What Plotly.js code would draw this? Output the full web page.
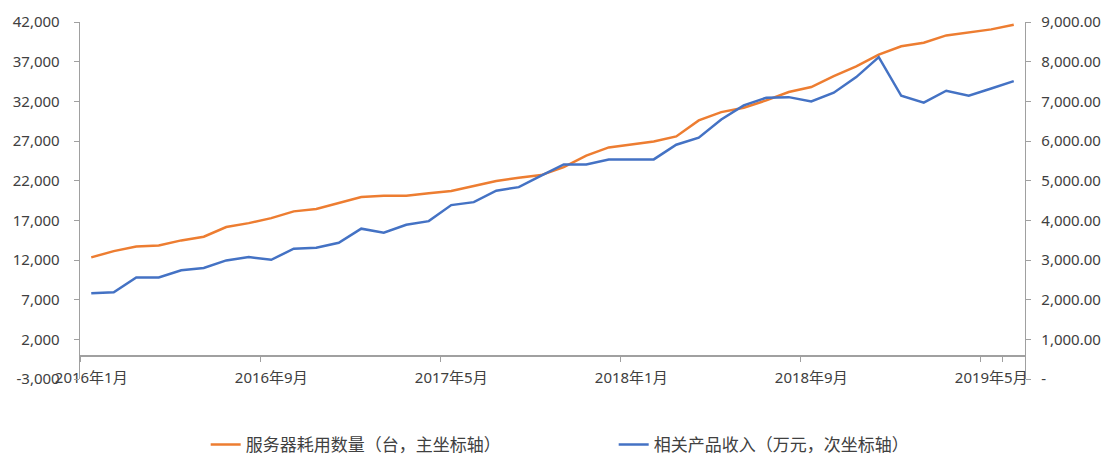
<!DOCTYPE html>
<html>
<head>
<meta charset="utf-8">
<script src="https://cdn.plot.ly/plotly-3.0.1.min.js"></script>
<style>html,body{margin:0;padding:0;background:#fff;}#chart{width:1107px;height:457px;}</style>
</head>
<body>
<div id="chart"></div>
<script>
// Categories: monthly, 2016年1月 .. 2019年6月
const months = [];
for (let y = 2016; y <= 2019; y++) {
  for (let m = 1; m <= 12; m++) {
    if (y === 2019 && m > 6) break;
    months.push(y + "年" + m + "月");
  }
}
const tickLabels = ["2016年1月", "2016年9月", "2017年5月", "2018年1月", "2018年9月", "2019年5月"];

// 服务器耗用数量（台，主坐标轴）
const serverCount = [
  12330, 13120, 13700, 13840, 14470, 14940, 16150, 16650, 17280, 18130,
  18420, 19170, 19930, 20100, 20100, 20400, 20690, 21320, 21950, 22380,
  22700, 23710, 25150, 26190, 26550, 26950, 27580, 29600, 30640, 31200,
  32120, 33170, 33800, 35180, 36400, 37880, 38940, 39390, 40310, 40650,
  41070, 41660
];
// 相关产品收入（万元，次坐标轴）
const revenue = [
  2160, 2185, 2560, 2560, 2740, 2800, 2990, 3075, 3005, 3285,
  3310, 3436, 3790, 3688, 3890, 3980, 4384, 4459, 4747, 4837,
  5125, 5410, 5410, 5536, 5536, 5536, 5906, 6083, 6544, 6897,
  7091, 7106, 6998, 7217, 7610, 8115, 7140, 6965, 7268, 7141,
  7325, 7510
];

const leftTicks = [-3000, 2000, 7000, 12000, 17000, 22000, 27000, 32000, 37000, 42000];
const rightTicks = [0, 1000, 2000, 3000, 4000, 5000, 6000, 7000, 8000, 9000];

const fmtInt = v => (v < 0 ? "-" : "") + Math.abs(v).toLocaleString("en-US");
const fmtDec = v => v === 0 ? "-" : v.toLocaleString("en-US", {minimumFractionDigits: 2, maximumFractionDigits: 2});

const FONT = "'Noto Sans', 'Noto Sans CJK SC', sans-serif";
const AXC = "#a0a0a0";

const traces = [
  {
    x: months, y: serverCount, type: "scatter", mode: "lines",
    name: "服务器耗用数量（台，主坐标轴）",
    line: {color: "#ED7D31", width: 2.5}, xaxis: "x", yaxis: "y"
  },
  {
    x: months, y: revenue, type: "scatter", mode: "lines",
    name: "相关产品收入（万元，次坐标轴）",
    line: {color: "#4472C4", width: 2.5}, xaxis: "x", yaxis: "y2"
  }
];

const layout = {
  width: 1107, height: 457,
  margin: {l: 80, r: 82, t: 22, b: 78},
  paper_bgcolor: "#fff", plot_bgcolor: "#fff",
  font: {family: FONT, size: 15, color: "#404040"},
  showlegend: true,
  legend: {
    orientation: "h", x: 0.133, xanchor: "left",
    yref: "container", y: 0.066, yanchor: "top",
    font: {family: "'Noto Sans CJK SC', sans-serif", size: 17, color: "#404040"},
    entrywidth: 363, entrywidthmode: "pixels", itemwidth: 30
  },
  xaxis: {
    type: "category", categoryorder: "array", categoryarray: months,
    range: [-0.5, 41.5],
    anchor: "free", position: 3000 / 45000,
    tickmode: "array", tickvals: tickLabels, ticktext: tickLabels,
    tickson: "boundaries", tickangle: 0,
    ticks: "outside", ticklen: 5, tickcolor: AXC, tickwidth: 1,
    ticklabelstandoff: 8,
    showline: true, linecolor: AXC, linewidth: 1.3,
    showgrid: false, zeroline: false,
    tickfont: {family: FONT, size: 15, color: "#404040"}
  },
  yaxis: {
    range: [-3000, 42000], tickmode: "array", tickvals: leftTicks,
    ticktext: leftTicks.map(fmtInt),
    ticks: "outside", ticklen: 5, tickcolor: AXC,
    ticklabelstandoff: 11,
    showline: true, linecolor: AXC, linewidth: 1.3,
    showgrid: false, zeroline: false,
    tickfont: {family: FONT, size: 15, color: "#404040"}
  },
  yaxis2: {
    overlaying: "y", side: "right", anchor: "x",
    range: [0, 9000], tickmode: "array", tickvals: rightTicks,
    ticktext: rightTicks.map(fmtDec),
    ticks: "outside", ticklen: 5, tickcolor: AXC,
    ticklabelstandoff: 7,
    showline: true, linecolor: AXC, linewidth: 1.3,
    showgrid: false, zeroline: false,
    tickfont: {family: FONT, size: 15, color: "#404040"}
  }
};

Plotly.newPlot("chart", traces, layout, {displayModeBar: false, staticPlot: true});
</script>
</body>
</html>
